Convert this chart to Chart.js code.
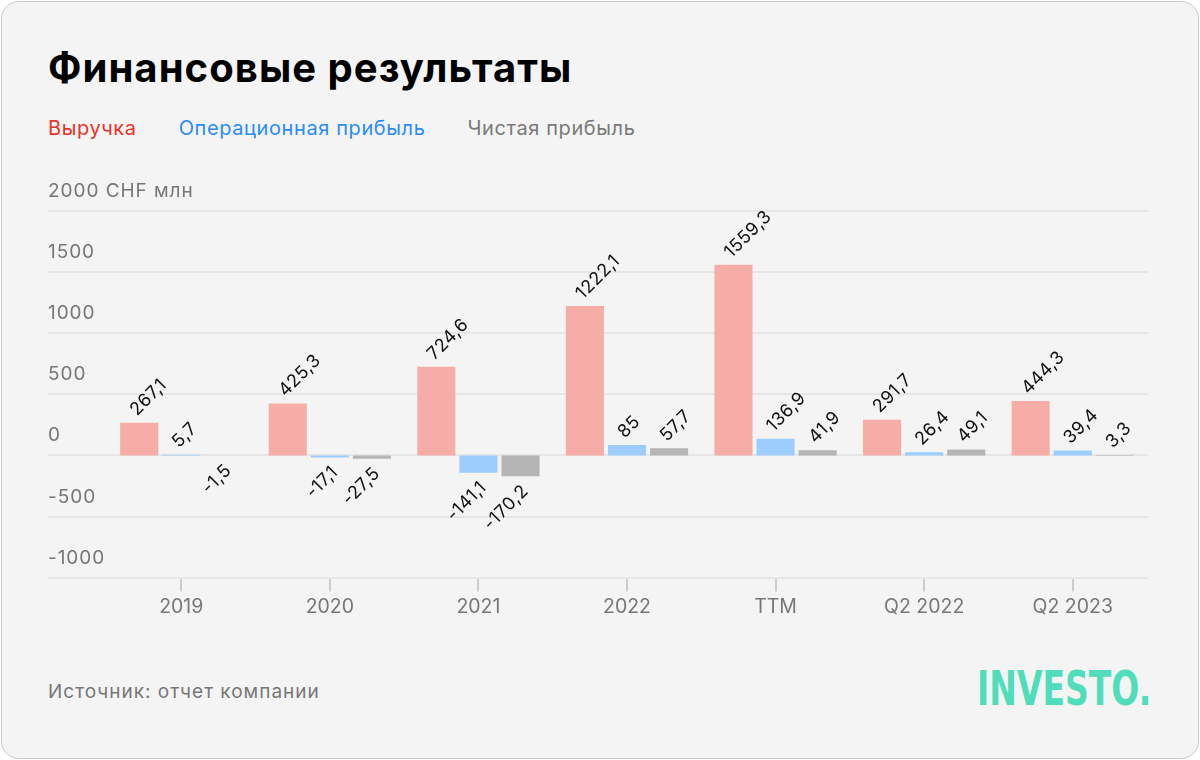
<!DOCTYPE html>
<html>
<head>
<meta charset="utf-8">
<script src="https://cdn.jsdelivr.net/npm/chart.js@4.4.0/dist/chart.umd.min.js"></script>
<style>
    body { margin: 0; background: #fff; font-family: Inter, "Noto Sans", sans-serif; }
    #card {
        position: absolute; left: 1px; top: 1px; width: 1196px; height: 756px;
        background: #f4f4f4; border: 1px solid #c9c9c9; border-radius: 18px;
    }
    #title {
        position: absolute; left: 48px; top: 46px; font-size: 40px; line-height: 44px; letter-spacing: 1.05px;
        font-weight: 700; color: #000; white-space: nowrap;
    }
    #legend {
        position: absolute; left: 48px; top: 116px; font-size: 20px; line-height: 24px; letter-spacing: 0.6px; white-space: nowrap;
    }
    #legend span { margin-right: 42px; }
    #source {
        position: absolute; left: 48px; top: 680px; font-size: 19px; line-height: 24px; letter-spacing: 1px; color: #777;
    }
    #logo {
        position: absolute; left: 977px; top: 662px; font-family: "DejaVu Sans"; font-weight: 700;
        font-size: 48px; line-height: 52px; color: #50ddb9; transform-origin: 0 0; white-space: nowrap;
    }
    #chart { position: absolute; left: 0; top: 0; }
</style>
</head>
<body>
<div id="card"></div>
<div id="title">Финансовые результаты</div>
<div id="legend"></div>
<div id="source">Источник: отчет компании</div>
<div id="logo">INVESTO.</div>
<canvas id="chart" width="1200" height="760"></canvas>
<script>
    var categories = ['2019', '2020', '2021', '2022', 'TTM', 'Q2 2022', 'Q2 2023'];
    var revenue = [267.1, 425.3, 724.6, 1222.1, 1559.3, 291.7, 444.3];
    var operatingProfit = [5.7, -17.1, -141.1, 85, 136.9, 26.4, 39.4];
    var netProfit = [-1.5, -27.5, -170.2, 57.7, 41.9, 49.1, 3.3];
    var seriesNames = ['Выручка', 'Операционная прибыль', 'Чистая прибыль'];
    var yTickValues = [2000, 1500, 1000, 500, 0, -500, -1000];
    var yTickLabels = ['2000 CHF млн', '1500', '1000', '500', '0', '-500', '-1000'];

    var barColors = ['#f6ada7', '#9dcdfc', '#b5b5b5'];
    var legendColors = ['#e8332b', '#2b8cf7', '#7a7a7a'];

    // legend as text
    var legendHtml = '';
    seriesNames.forEach(function (name, i) {
        legendHtml += '<span style="color:' + legendColors[i] + '">' + name + '</span>';
    });
    document.getElementById('legend').innerHTML = legendHtml;

    // squeeze logo to its width
    var logo = document.getElementById('logo');
    logo.style.transform = 'scaleX(' + (174 / logo.offsetWidth) + ')';

    var fmt = function (v) {
        return String(v).replace('.', ',');
    }

    var gridAndLabels = {
        id: 'gridAndLabels',
        beforeDatasetsDraw: function (chart) {
            var ctx = chart.ctx;
            var y = chart.scales.y;
            ctx.save();
            ctx.strokeStyle = '#e6e6e6';
            ctx.lineWidth = 2;
            ctx.fillStyle = '#777';
            ctx.font = '19px Inter';
            ctx.letterSpacing = '0.95px';
            ctx.textBaseline = 'middle';
            ctx.textAlign = 'left';
            yTickValues.forEach(function (v, i) {
                var py = Math.round(y.getPixelForValue(v));
                ctx.beginPath();
                ctx.moveTo(48, py);
                ctx.lineTo(chart.chartArea.right + 1, py);
                ctx.stroke();
                ctx.fillText(yTickLabels[i], 48, py - 20);
            });
            ctx.restore();
        },
        afterDatasetsDraw: function (chart) {
            var ctx = chart.ctx;
            ctx.save();
            ctx.fillStyle = '#111';
            ctx.font = '18px Inter';
            ctx.letterSpacing = '0.4px';
            ctx.textBaseline = 'middle';
            chart.data.datasets.forEach(function (ds, di) {
                chart.getDatasetMeta(di).data.forEach(function (el, i) {
                    var v = ds.data[i];
                    ctx.save();
                    if (v >= 0) {
                        ctx.translate(el.x - 6, el.y - 10);
                        ctx.textAlign = 'left';
                    } else {
                        ctx.translate(el.x + 5, el.y + 12);
                        ctx.textAlign = 'right';
                    }
                    ctx.rotate(-Math.PI / 4);
                    ctx.fillText(fmt(v), 0, 0);
                    ctx.restore();
                });
            });
            ctx.restore();
        }
    }

    new Chart(document.getElementById('chart'), {
        type: 'bar',
        data: {
            labels: categories,
            datasets: [
                { label: seriesNames[0], data: revenue, backgroundColor: barColors[0] },
                { label: seriesNames[1], data: operatingProfit, backgroundColor: barColors[1] },
                { label: seriesNames[2], data: netProfit, backgroundColor: barColors[2] }
            ]
        },
        options: {
            responsive: false,
            animation: false,
            categoryPercentage: 0.85,
            barPercentage: 0.905,
            layout: { padding: { left: 107, right: 53, top: 211, bottom: 137 } },
            plugins: { legend: { display: false }, tooltip: { enabled: false } },
            scales: {
                y: { display: false, min: -1000, max: 2000 },
                x: {
                    border: { display: false },
                    grid: { offset: false, drawOnChartArea: false, drawTicks: true, tickLength: 14, color: '#cdcdcd', lineWidth: 2 },
                    ticks: { color: '#777', font: { family: 'Inter', size: 19.5 }, padding: 4 }
                }
            }
        },
        plugins: [gridAndLabels]
    });
</script>
</body>
</html>
